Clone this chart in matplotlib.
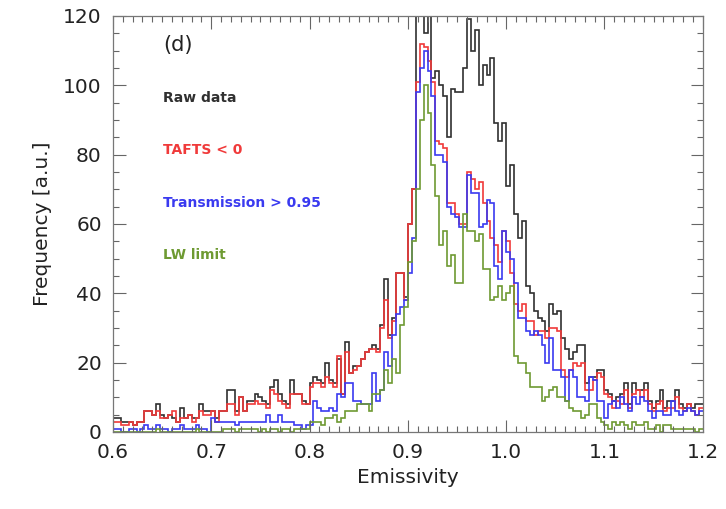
import numpy as np
import matplotlib
matplotlib.use('Agg')
import matplotlib.pyplot as plt
from matplotlib.ticker import MultipleLocator

# histogram bins: 150 bins of width 0.004 between 0.6 and 1.2
bin_edges = np.round(0.6 + 0.004 * np.arange(151), 3)

raw_data = [
    4, 4, 3, 3, 3, 2, 3, 3, 6, 6, 5, 8, 5, 4, 5, 4, 3, 7, 4, 5, 4, 4, 8, 6, 6,
    6, 4, 6, 6, 12, 12, 6, 10, 6, 9, 9, 11, 10,
    9, 8, 13, 15, 11, 9, 8, 15, 11, 11, 9, 8, 14, 16, 15, 14, 20, 15, 14, 21, 11, 26,
    17, 19, 19, 21, 23, 24, 25, 24, 31, 44,
    28, 33, 46, 46, 39, 60, 70, 122, 135, 115,
    128, 102, 104, 100, 97, 85, 99, 98, 98, 105,
    119, 110, 116, 100, 106, 103, 108, 89, 84, 89,
    71, 77, 63, 56, 61, 42, 40, 35, 33, 32,
    29, 37, 34, 35, 27, 24, 21, 23, 25, 25,
    14, 16, 16, 18, 18, 12, 11, 9, 10, 11,
    14, 8, 14, 12, 12, 14, 9, 7, 9, 12,
    7, 9, 9, 12, 8, 7, 8, 7, 8, 8,
]

tafts = [
    3, 3, 2, 2, 3, 2, 3, 3, 6, 6, 5, 6, 4, 4, 5, 6, 3, 4, 4, 5, 3, 4, 6, 5, 5,
    6, 3, 6, 6, 8, 8, 5, 10, 6, 8, 8, 9, 8,
    8, 7, 12, 11, 9, 8, 7, 11, 11, 11, 8, 8, 13, 14, 14, 13, 16, 14, 13, 22, 11, 23,
    17, 18, 19, 21, 23, 24, 24, 23, 30, 38,
    27, 32, 46, 46, 38, 60, 70, 101, 112, 111,
    107, 101, 84, 83, 82, 66, 66, 63, 60, 60,
    75, 73, 70, 72, 66, 61, 56, 54, 49, 58,
    55, 46, 37, 35, 37, 32, 32, 28, 29, 29,
    27, 30, 30, 29, 18, 16, 18, 20, 19, 20,
    12, 12, 15, 17, 16, 11, 10, 7, 9, 8,
    12, 7, 11, 12, 10, 12, 8, 6, 8, 9,
    6, 7, 7, 10, 7, 6, 8, 6, 5, 7,
]

transmission = [
    1, 1, 0, 0, 1, 1, 0, 1, 2, 1, 1, 2, 1, 1, 0, 1, 1, 2, 1, 1, 1, 2, 1, 1, 0,
    4, 3, 3, 3, 3, 3, 2, 3, 3, 3, 3, 3, 3,
    3, 5, 3, 3, 5, 3, 3, 3, 2, 2, 1, 2, 2, 9, 7, 6, 6, 7, 6, 11, 10, 14,
    14, 9, 9, 8, 8, 8, 17, 9, 12, 23,
    19, 28, 34, 36, 38, 46, 56, 98, 105, 110,
    104, 97, 80, 80, 78, 65, 63, 62, 59, 59,
    74, 69, 69, 59, 60, 67, 66, 48, 44, 58,
    52, 50, 43, 33, 33, 29, 28, 29, 28, 25,
    20, 27, 18, 18, 16, 9, 18, 16, 10, 10,
    9, 16, 15, 9, 9, 4, 8, 9, 7, 10,
    8, 6, 10, 8, 10, 9, 6, 4, 6, 6,
    5, 5, 9, 6, 5, 6, 7, 6, 5, 6,
]

lw_limit = [
    0, 0, 0, 0, 0, 0, 0, 0, 0, 0, 0, 1, 0, 0, 0, 0, 0, 0, 0, 0, 0, 1, 0, 0, 0,
    0, 0, 0, 1, 1, 1, 0, 1, 1, 1, 1, 1, 0,
    1, 0, 1, 1, 0, 1, 1, 0, 1, 1, 1, 1, 3, 3, 3, 2, 4, 4, 5, 3, 4, 6,
    6, 6, 8, 8, 8, 6, 11, 11, 12, 18,
    14, 21, 17, 31, 36, 49, 55, 70, 90, 100,
    92, 77, 68, 54, 58, 48, 51, 43, 43, 63,
    58, 58, 55, 57, 47, 47, 38, 39, 42, 38,
    40, 42, 22, 20, 20, 17, 13, 13, 13, 9,
    10, 12, 13, 10, 10, 9, 7, 6, 6, 4,
    5, 8, 8, 4, 3, 2, 1, 3, 2, 3,
    2, 1, 3, 2, 2, 3, 1, 1, 2, 0,
    2, 2, 1, 1, 1, 1, 1, 1, 0, 1,
]

series = [
    ('Raw data', raw_data, '#303030'),
    ('TAFTS < 0', tafts, '#f03a3a'),
    ('Transmission > 0.95', transmission, '#3a3af0'),
    ('LW limit', lw_limit, '#6e9a32'),
]

fig = plt.figure(figsize=(7.26, 5.09), dpi=100)
ax = fig.add_axes([0.1556, 0.1513, 0.8124, 0.8173])

for name, vals, col in series:
    ax.stairs(vals, bin_edges, color=col, linewidth=1.2, baseline=None)

ax.set_xlim(0.6, 1.2)
ax.set_ylim(0, 120)

ax.xaxis.set_major_locator(MultipleLocator(0.1))
ax.xaxis.set_minor_locator(MultipleLocator(0.01))
ax.yaxis.set_major_locator(MultipleLocator(20))
ax.yaxis.set_minor_locator(MultipleLocator(5))
ax.xaxis.set_major_formatter(plt.FuncFormatter(lambda v, p: f'{v:.1f}'))
ax.tick_params(which='both', direction='in', top=True, right=True, colors='#666666',
               labelcolor='#222222', labelsize=14.5, width=0.8)
ax.tick_params(which='major', length=9, pad=8)
ax.tick_params(which='minor', length=4.5)
for s in ax.spines.values():
    s.set_color('#777777')
    s.set_linewidth(0.9)

ax.set_xlabel('Emissivity', fontsize=14.5, color='#222222', labelpad=4)
ax.set_ylabel('Frequency [a.u.]', fontsize=14.5, color='#222222', labelpad=8)

ax.text(0.085, 0.93, '(d)', transform=ax.transAxes, fontsize=15, color='#222222',
        va='center', ha='left')
label_y = [0.803, 0.678, 0.55, 0.425]
for (name, vals, col), yy in zip(series, label_y):
    ax.text(0.085, yy, name, transform=ax.transAxes, fontsize=10, color=col,
            fontweight='bold', va='center', ha='left')

fig.savefig('out.png', dpi=100)
